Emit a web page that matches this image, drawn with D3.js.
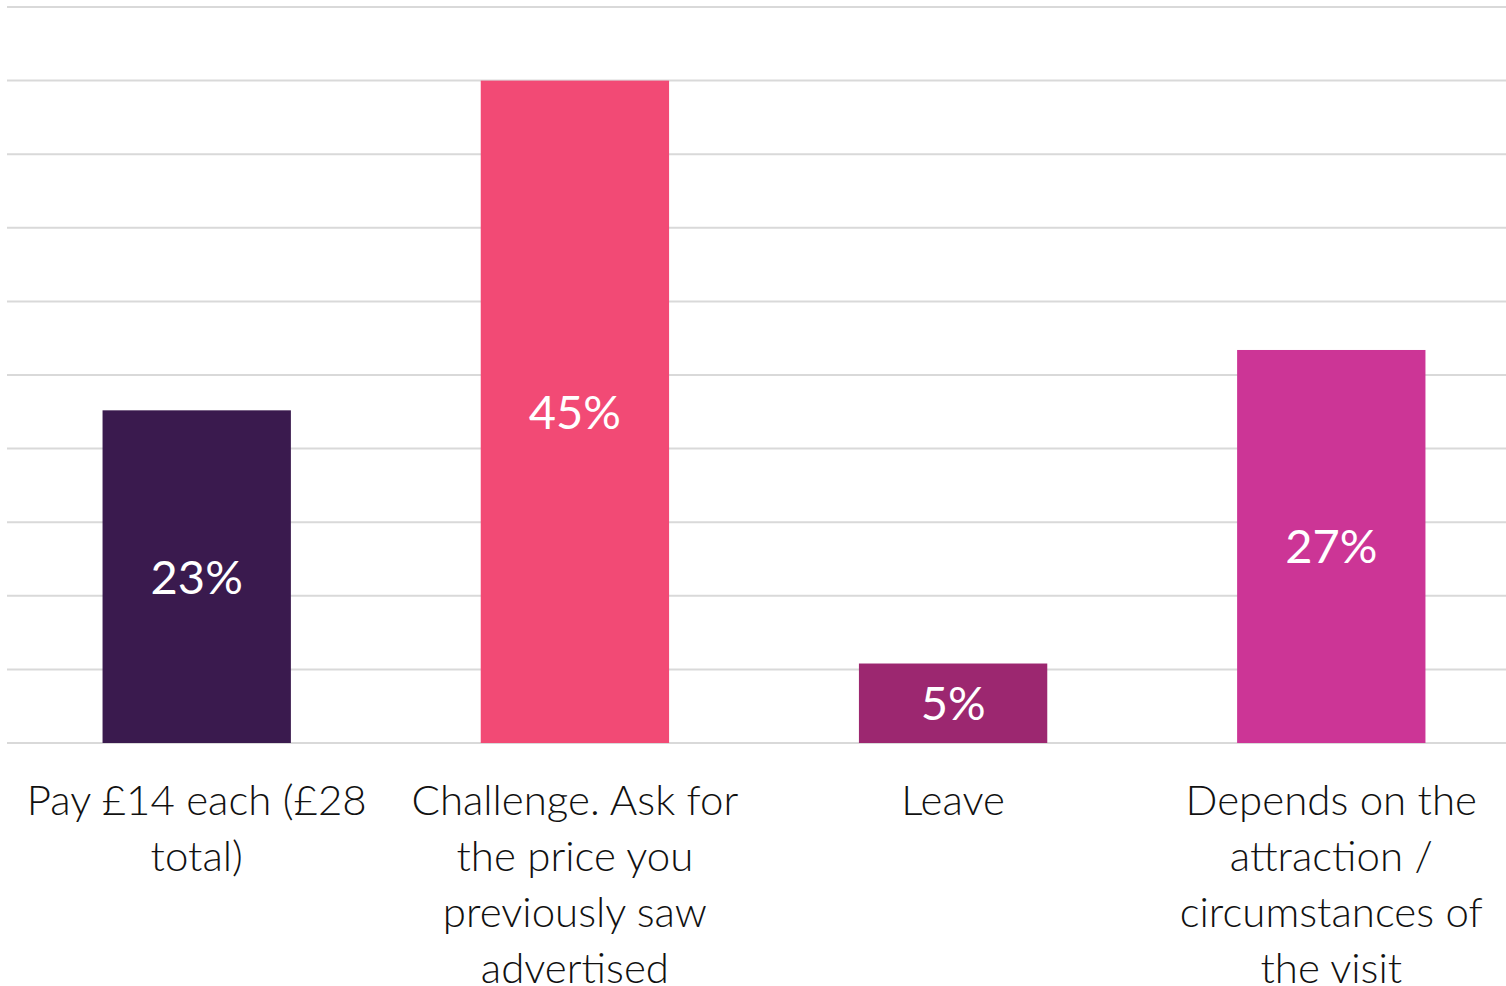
<!DOCTYPE html>
<html>
<head>
<meta charset="utf-8">
<script src="https://cdn.jsdelivr.net/npm/d3@7"></script>
<style>
  html, body { margin: 0; padding: 0; background: #fff; }
  svg { display: block; font-family: Lato, "Noto Sans", sans-serif; }
</style>
</head>
<body>
<div class="chart"></div>
<script>
// categories, wrapped the way the picture wraps them
const categories = [
    "Pay £14 each (£28 total)",
    "Challenge. Ask for the price you previously saw advertised",
    "Leave",
    "Depends on the attraction / circumstances of the visit"
];
const categoryLines = [
    ["Pay £14 each (£28", "total)"],
    ["Challenge. Ask for", "the price you", "previously saw", "advertised"],
    ["Leave"],
    ["Depends on the", "attraction /", "circumstances of", "the visit"]
];
const shares = [22.6, 45.0, 5.4, 26.7];
const barColors = ["#3a1a4e", "#f24a75", "#9c2770", "#cc3596"];
const gridTicks = [0, 5, 10, 15, 20, 25, 30, 35, 40, 45, 50];

const data = categories.map((c, i) => ({
    category: c, lines: categoryLines[i], value: shares[i], color: barColors[i]
}));

const width = 1506, height = 986;
const svg = d3.select(".chart")
    .append("svg")
    .attr("width", width)
    .attr("height", height);

const xScale = d3.scaleBand()
    .domain(categories)
    .range([8, 1520])
    .paddingInner(0.502)
    .paddingOuter(0.25);

const yScale = d3.scaleLinear()
    .domain([0, 50])
    .range([743, 7]);

// gridlines
svg.append("g")
    .selectAll("line")
    .data(gridTicks)
    .join("line")
    .attr("x1", 7)
    .attr("x2", width)
    .attr("y1", d => yScale(d))
    .attr("y2", d => yScale(d))
    .attr("stroke", "#d9d9d9")
    .attr("stroke-width", 2);

// bars
svg.append("g")
    .selectAll("rect")
    .data(data)
    .join("rect")
    .attr("x", d => xScale(d.category))
    .attr("y", d => yScale(d.value))
    .attr("width", xScale.bandwidth())
    .attr("height", d => yScale(0) - yScale(d.value))
    .attr("fill", d => d.color);

// value labels inside bars
svg.append("g")
    .selectAll("text")
    .data(data)
    .join("text")
    .attr("x", d => xScale(d.category) + xScale.bandwidth() / 2)
    .attr("y", d => (yScale(d.value) + yScale(0)) / 2)
    .attr("dy", "0.36em")
    .attr("text-anchor", "middle")
    .attr("fill", "#fff")
    .attr("font-size", 47)
    .text(d => Math.round(d.value) + "%");

// category labels
const catG = svg.append("g")
    .selectAll("text")
    .data(data)
    .join("text")
    .attr("x", d => xScale(d.category) + xScale.bandwidth() / 2)
    .attr("y", 815)
    .attr("text-anchor", "middle")
    .attr("fill", "#111")
    .attr("font-size", 42)
    .attr("font-weight", 300);

catG.selectAll("tspan")
    .data(d => d.lines)
    .join("tspan")
    .attr("x", function () { return d3.select(this.parentNode).attr("x"); })
    .attr("dy", (d, i) => i === 0 ? 0 : 56)
    .text(d => d);
</script>
</body>
</html>
